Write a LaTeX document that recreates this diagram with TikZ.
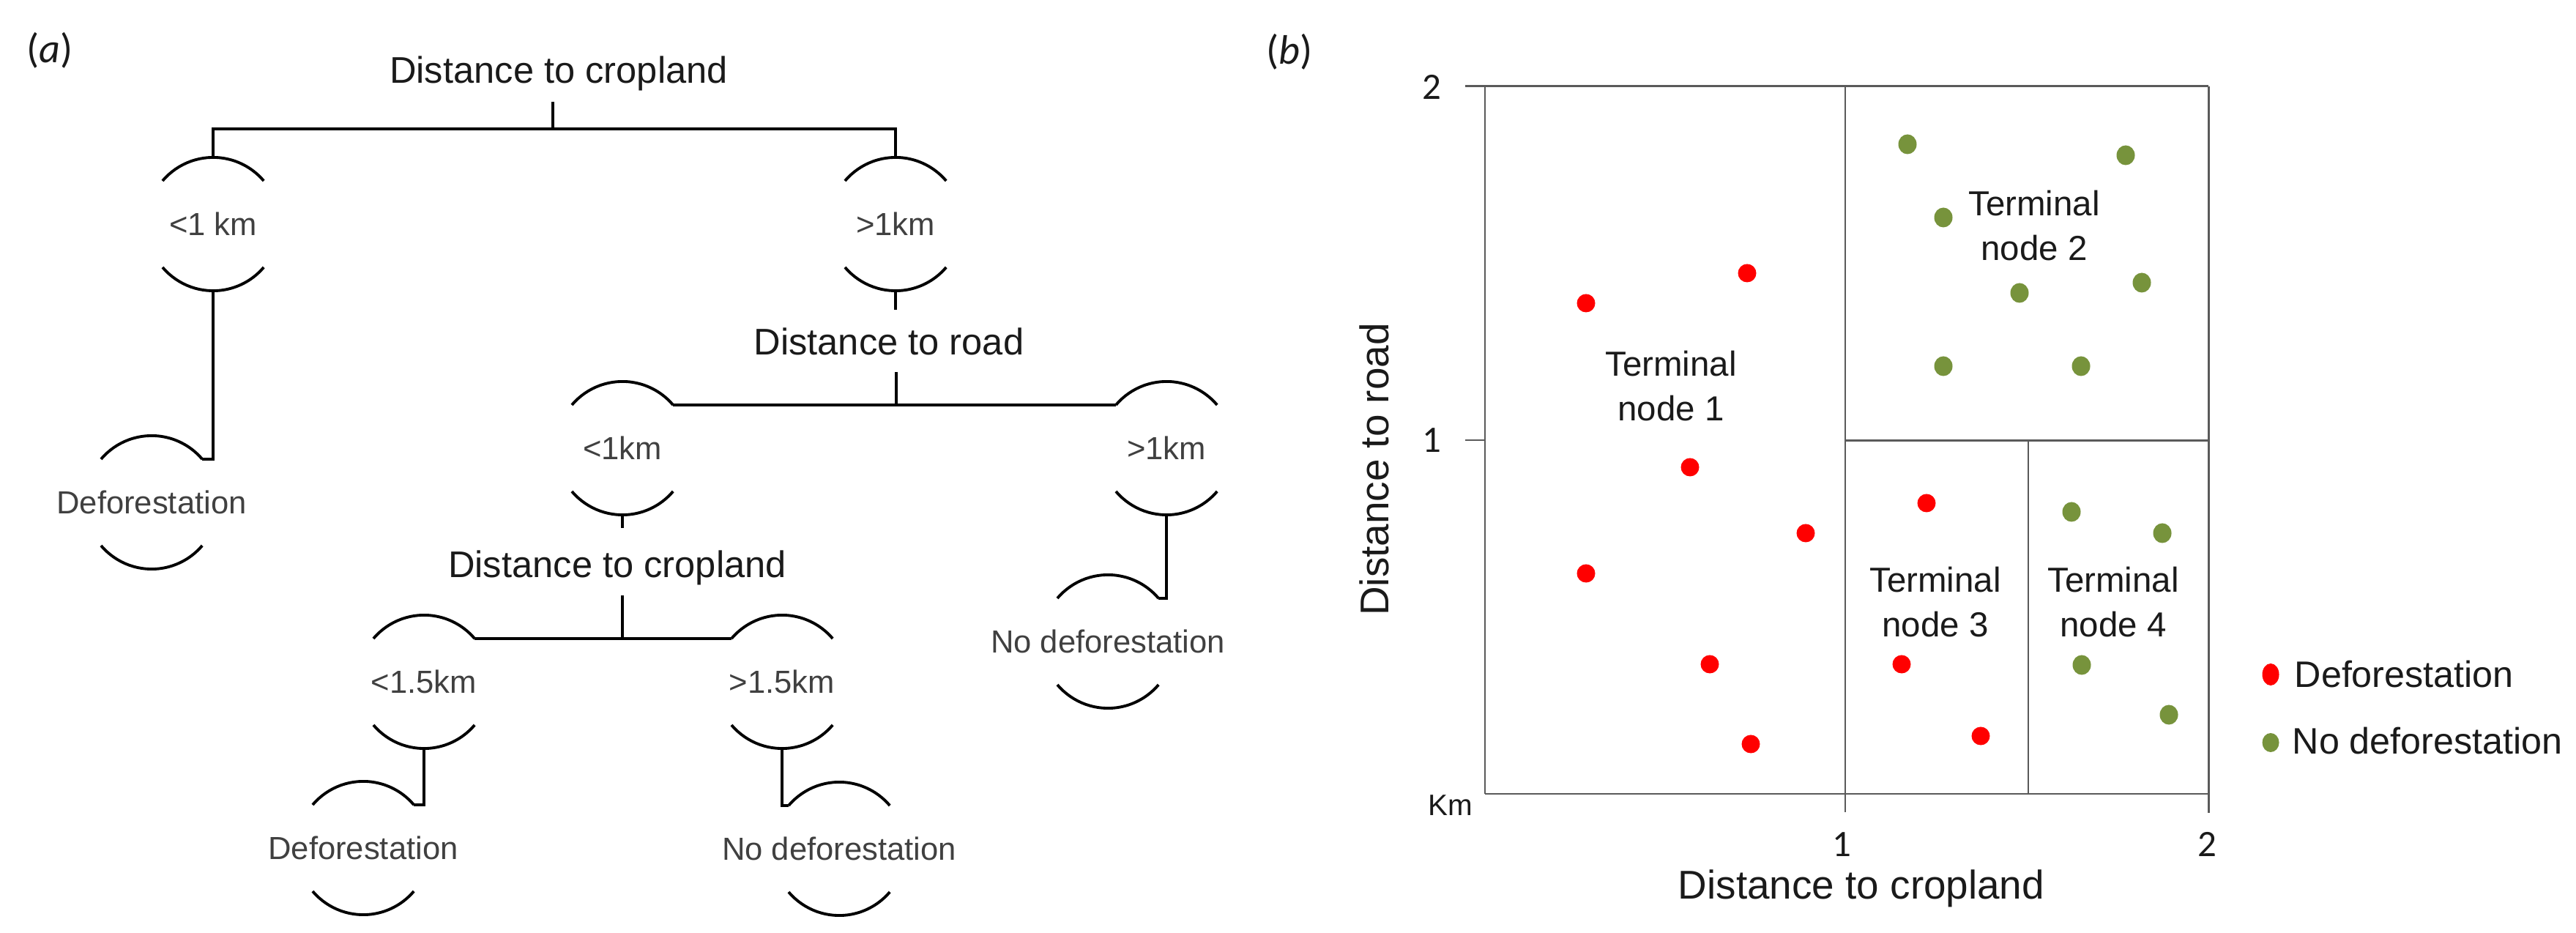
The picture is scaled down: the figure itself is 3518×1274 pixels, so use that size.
\documentclass[tikz,border=0pt]{standalone}
\usepackage{fontspec}
\setmainfont{Liberation Sans}
\newfontfamily\calfont{Carlito}
\usetikzlibrary{calc}
\definecolor{headcol}{HTML}{1A1A1A}
\definecolor{lblcol}{HTML}{404040}
\definecolor{axcol}{HTML}{5A5A5A}
\definecolor{defred}{HTML}{FF0000}
\definecolor{nodefgreen}{HTML}{77933C}
\tikzset{
  treeline/.style={line width=1.1pt, black},
  headtxt/.style={inner sep=0pt, text=headcol, font=\fontsize{14.4}{17}\selectfont, text height=10.3pt, text depth=0pt},
  lbltxt/.style={inner sep=0pt, text=lblcol, font=\fontsize{12.4}{15}\selectfont, text height=8.88pt, text depth=0pt},
  paneltag/.style={inner sep=0pt, text=headcol, font=\fontsize{16}{19}\calfont\selectfont},
  termtxt/.style={inner sep=0pt, text=headcol, align=center, font=\fontsize{13.5}{17.35}\selectfont},
  axtitle/.style={inner sep=0pt, text=headcol, font=\fontsize{15.6}{18}\selectfont, text height=11.17pt, text depth=0pt},
  ticktxt/.style={inner sep=0pt, text=headcol, font=\fontsize{14.5}{17}\calfont\selectfont, text height=9.2pt, text depth=0pt},
  kmtxt/.style={inner sep=0pt, text=headcol, font=\fontsize{11.5}{14}\selectfont, text height=8.23pt, text depth=0pt},
  legtxt/.style={inner sep=0pt, text=headcol, font=\fontsize{14.3}{17}\selectfont, text height=10.24pt, text depth=0pt},
  axthick/.style={line width=0.85pt, axcol},
  axthin/.style={line width=0.6pt, axcol},
  reddot/.style={fill=defred},
  greendot/.style={fill=nodefgreen}
}
% split node: #1 name, #2 position, #3 text, #4 style
\newcommand{\splitnode}[4]{%
  \node[#4] (#1) at (#2) {#3};
  \coordinate (#1-t) at ($(#1)+(0,-91)$);
  \coordinate (#1-b) at ($(#1)+(0,91)$);
  \draw[treeline] ($(#1-t)+(-69,32)$) arc[start angle=139.8, end angle=40.2, radius=0.904cm];
  \draw[treeline] ($(#1-b)+(-69,-32)$) arc[start angle=220.2, end angle=319.8, radius=0.904cm];
}
\begin{document}
\begin{tikzpicture}[x=0.01cm, y=-0.01cm]
\useasboundingbox (0,0) rectangle (3518,1274);

% ---------- panel (a): decision tree ----------
\node[paneltag] (taga) at (68,69) {(\textit{a})};

\node[headtxt] (root) at (763,95) {Distance to cropland};
\splitnode{L1}{291,306}{<1 km}{lbltxt}
\splitnode{R1}{1223,306}{>1km}{lbltxt}
\draw[treeline] ($(root.south)+(-8,25)$) -- ++(0,38);
\draw[treeline] (L1-t) -- ++(0,-39) -| (R1-t);

\splitnode{D1}{207,686}{Deforestation}{lbltxt}
\draw[treeline] (L1-b) |- ($(D1-t)+(69,32)$);

\node[headtxt] (road) at (1214,466) {Distance to road};
\draw[treeline] (R1-b) -- ++(0,26);
\splitnode{L2}{850,612}{<1km}{lbltxt}
\splitnode{R2}{1593,612}{>1km}{lbltxt}
\draw[treeline] ($(road.south)+(10,23)$) -- ++(0,46);
\draw[treeline] ($(L2-t)+(69,32)$) -- ($(R2-t)+(-69,32)$);

\splitnode{N2}{1513,876}{No deforestation}{lbltxt}
\draw[treeline] (R2-b) |- ($(N2-t)+(69,32)$);

\node[headtxt] (crop2) at (843,770) {Distance to cropland};
\draw[treeline] (L2-b) -- ++(0,18);
\splitnode{L3}{579,931}{<1.5km}{lbltxt}
\splitnode{R3}{1068,931}{>1.5km}{lbltxt}
\draw[treeline] ($(crop2.south)+(7,24)$) -- ++(0,61);
\draw[treeline] ($(L3-t)+(69,32)$) -- ($(R3-t)+(-69,32)$);

\splitnode{D2}{496,1158}{Deforestation}{lbltxt}
\splitnode{N1}{1146,1159}{No deforestation}{lbltxt}
\draw[treeline] (L3-b) |- ($(D2-t)+(69,32)$);
\draw[treeline] (R3-b) |- ($(N1-t)+(-69,32)$);

% ---------- panel (b): partition plot ----------
\node[paneltag] (tagb) at (1761,71) {(\textit{b})};

\draw[axthick] (2001,118) -- (3016,118);
\draw[axthick] (2028,1084) -- (3016,1084);
\draw[axthick] (2520,602) -- (3016,602);
\draw[axthin] (2028,118) -- (2028,1084);
\draw[axthin] (2520,118) -- (2520,1109);
\draw[axthick] (3016,118) -- (3016,1110);
\draw[axthin] (2770,602) -- (2770,1084);
\draw[axthin] (2001,601) -- (2028,601);

\node[ticktxt] (y2) at (1955,119) {2};
\node[ticktxt] (y1) at (1955,601) {1};
\node[ticktxt] (x1) at (2515,1153) {1};
\node[ticktxt] (x2) at (3014,1153) {2};
\node[kmtxt] (km) at (1981,1099) {Km};
\node[axtitle] (xt) at (2542,1208) {Distance to cropland};
\node[axtitle, rotate=90] (yt) at (1877,641) {Distance to road};

\node[termtxt] (t1) at (2282,527) {Terminal\\node 1};
\node[termtxt] (t2) at (2778,308) {Terminal\\node 2};
\node[termtxt] (t3) at (2643,822) {Terminal\\node 3};
\node[termtxt] (t4) at (2886,822) {Terminal\\node 4};

\foreach \p in {(2166,414),(2386,373),(2308,638),(2466,728),(2166,783),(2335,907),(2391,1016),(2631,687),(2597,907),(2705,1005)}
  \fill[reddot] \p circle[radius=0.125cm];
\foreach \p in {(2605,197),(2903,212),(2654,297),(2758,400),(2925,386),(2654,500),(2842,500),(2829,699),(2953,728),(2843,908),(2962,976)}
  \fill[greendot] \p ellipse[x radius=0.125cm, y radius=0.135cm];

\fill[reddot] (3101,921) ellipse[x radius=0.115cm, y radius=0.15cm];
\fill[greendot] (3101,1014) ellipse[x radius=0.115cm, y radius=0.13cm];
\node[legtxt, anchor=west] (lg1) at (3133,920) {Deforestation};
\node[legtxt, anchor=west] (lg2) at (3130,1011) {No deforestation};
\end{tikzpicture}
\end{document}
